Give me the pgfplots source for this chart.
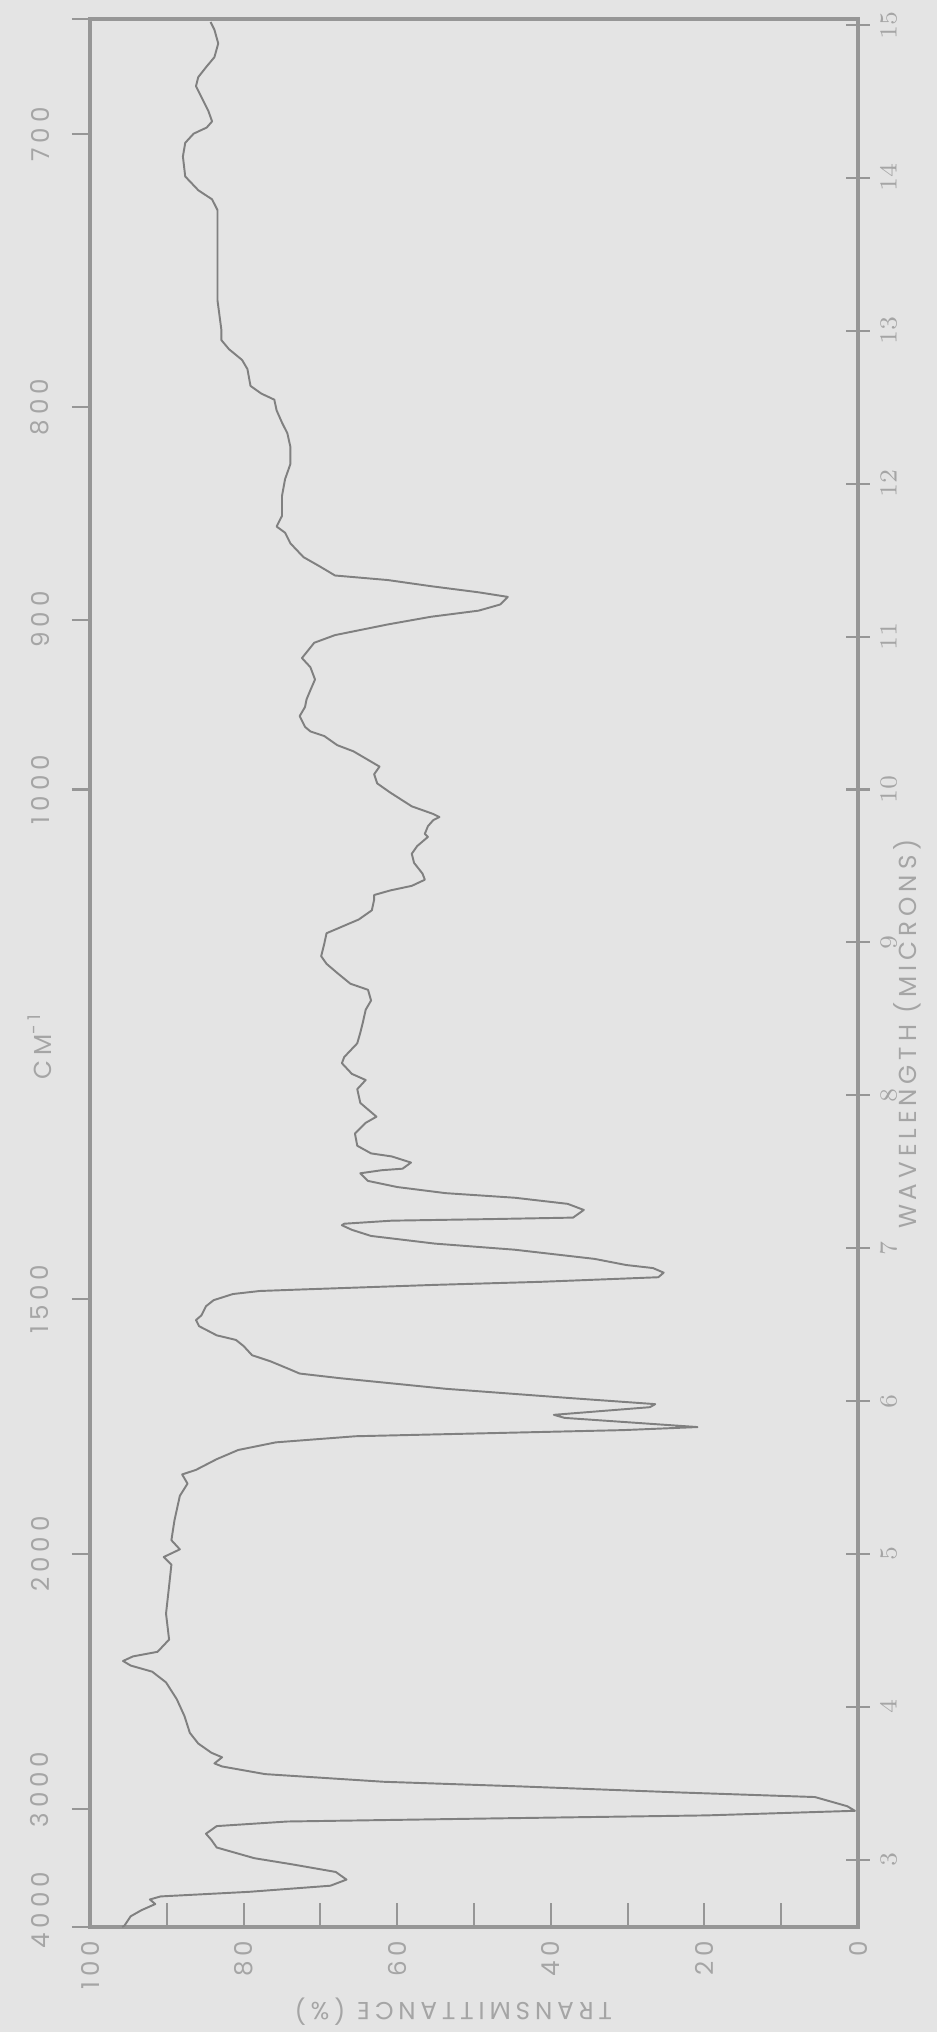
\documentclass[border=0pt]{standalone}
\usepackage{pgfplots}
\usepackage{pgfplotstable}
\pgfplotsset{compat=1.18}
\usepackage{fontspec}
\setmainfont{Poppins}
\newfontfamily\labfont{Poppins}[LetterSpace=20]
\definecolor{bgc}{RGB}{228,228,228}
\definecolor{framec}{RGB}{150,150,150}
\definecolor{curvec}{RGB}{128,128,128}
\definecolor{txtc}{RGB}{165,165,165}

\pgfplotstableread{
T lam
95.8 2.56
95.5 2.57
94.7 2.63
93.3 2.67
91.5 2.71
92.2 2.74
90.8 2.76
79.3 2.79
68.7 2.83
66.6 2.87
68.0 2.92
73.7 2.97
78.6 3.01
81.4 3.05
83.5 3.08
84.2 3.13
84.9 3.17
83.5 3.22
74.3 3.25
47.7 3.27
19.7 3.29
0.4 3.32
1.4 3.35
5.6 3.41
23.2 3.44
44.2 3.48
61.8 3.51
77.2 3.56
82.8 3.61
83.8 3.63
82.8 3.67
84.2 3.70
85.9 3.76
87.0 3.83
87.7 3.94
88.7 4.05
90.1 4.16
91.9 4.23
94.7 4.27
95.7 4.30
94.4 4.33
91.2 4.36
89.7 4.44
90.1 4.61
89.7 4.79
89.4 4.93
90.4 4.98
88.3 5.03
89.4 5.09
89.0 5.22
88.3 5.38
87.3 5.46
88.0 5.52
86.2 5.55
83.5 5.62
80.7 5.68
75.8 5.73
65.4 5.77
48.0 5.79
30.6 5.81
20.9 5.83
38.2 5.89
39.6 5.91
27.1 5.96
26.4 5.98
37.6 6.02
53.6 6.08
67.5 6.15
72.7 6.18
74.1 6.21
76.5 6.26
78.9 6.30
80.0 6.36
81.0 6.40
83.5 6.43
85.8 6.49
86.2 6.53
85.5 6.56
84.9 6.62
83.9 6.66
81.4 6.70
77.9 6.72
72.4 6.73
55.1 6.76
41.3 6.78
26.0 6.81
25.3 6.84
26.7 6.87
30.2 6.89
34.3 6.93
44.7 6.99
55.1 7.03
63.4 7.08
65.9 7.12
67.2 7.15
66.9 7.16
60.7 7.18
48.2 7.19
37.1 7.20
35.7 7.25
37.8 7.29
44.7 7.33
53.7 7.36
60.0 7.40
63.8 7.44
64.8 7.49
62.0 7.51
59.3 7.52
58.2 7.56
60.7 7.60
63.4 7.62
65.2 7.67
65.5 7.75
64.1 7.82
62.7 7.86
64.8 7.95
65.2 8.04
64.1 8.10
65.9 8.14
67.2 8.21
66.9 8.25
65.2 8.34
64.8 8.41
64.5 8.47
64.1 8.56
63.4 8.62
63.8 8.69
66.1 8.73
67.8 8.80
69.2 8.86
69.9 8.91
69.5 8.99
69.2 9.06
67.8 9.09
65.0 9.15
63.3 9.21
63.0 9.28
63.0 9.31
60.9 9.34
58.1 9.37
56.4 9.41
56.7 9.45
57.8 9.52
58.1 9.58
57.4 9.63
56.0 9.69
56.4 9.71
56.0 9.76
55.3 9.80
54.5 9.82
55.3 9.84
58.1 9.89
60.9 9.98
62.6 10.04
63.0 10.10
62.3 10.15
64.0 10.20
65.7 10.25
67.8 10.29
69.5 10.35
71.3 10.38
72.0 10.41
72.7 10.48
72.0 10.54
71.8 10.59
71.3 10.65
70.7 10.72
71.3 10.80
72.4 10.86
70.8 10.96
68.1 11.01
61.2 11.08
55.6 11.13
49.4 11.17
46.6 11.21
45.6 11.26
49.4 11.29
55.6 11.33
61.2 11.37
68.1 11.40
70.1 11.46
72.2 11.52
73.9 11.61
74.6 11.68
75.7 11.72
75.0 11.79
75.0 11.92
74.6 12.03
73.9 12.13
73.9 12.24
74.3 12.33
75.0 12.40
75.7 12.48
76.0 12.55
77.7 12.59
79.1 12.64
79.5 12.75
80.2 12.81
81.9 12.88
82.9 12.94
82.9 13.01
83.4 13.20
83.4 13.42
83.4 13.64
83.4 13.79
84.1 13.86
85.9 13.92
87.6 14.01
87.9 14.14
87.6 14.23
86.5 14.29
84.8 14.33
84.1 14.37
84.6 14.44
85.5 14.53
86.2 14.60
85.9 14.66
84.8 14.73
83.8 14.79
83.3 14.88
83.8 14.97
84.3 15.02
}\spec

\pgfplotsset{
  irbase/.style={
    at={(0.90cm,1.05cm)}, anchor=south west,
    scale only axis, width=7.68cm, height=19.08cm,
    x dir=reverse, xmin=0, xmax=100, ymin=2.56, ymax=15.04,
    clip=false,
    tick style={draw=framec, line width=0.6pt},
    ticklabel style={text=txtc, font=\labfont\fontsize{7}{8}\selectfont, inner sep=0pt},
  }
}

\begin{document}
\begin{tikzpicture}
\path[use as bounding box, fill=bgc] (0,0) rectangle (9.37cm,20.32cm);
% main axis: frame, transmittance ticks, spectrum
\begin{axis}[irbase,
  axis line style={draw=framec, line width=0.9pt},
  xtick={0,10,...,100},
  xticklabels={0,,20,,40,,60,,80,,100},
  xtick pos=bottom, tick align=inside, major tick length=2.4mm,
  xticklabel style={rotate=90, anchor=east},
  xticklabel shift=1.3mm,
  ytick=\empty,
]
\addplot[curvec, line width=0.55pt, line join=round] table[x=T, y=lam] {\spec};
\node[yshift=-8.5mm, rotate=180, text=txtc, font=\labfont\fontsize{7}{8}\selectfont]
  at (axis cs:52.7,2.56) {TRANSMITTANCE (\%)};
\node[xshift=4.9mm, rotate=90, text=txtc, font=\labfont\fontsize{7}{8}\selectfont]
  at (axis cs:0,8.4) {WAVELENGTH (MICRONS)};
\node[xshift=-5.0mm, rotate=90, text=txtc, font=\labfont\fontsize{7}{8}\selectfont]
  at (axis cs:100,8.32) {CM\textsuperscript{-1}};
\end{axis}
% right axis: wavelength ticks
\begin{axis}[irbase,
  axis line style={draw=none},
  xtick=\empty,
  ytick={3,4,...,15},
  ytick pos=right, tick align=center, major tick length=2.4mm,
  yticklabel style={rotate=90, anchor=north},
  yticklabel shift=1.0mm,
]
\end{axis}
% left axis: wavenumber ticks
\begin{axis}[irbase,
  axis line style={draw=none},
  xtick=\empty,
  ytick={2.56,3.3333,5,6.6667,10,11.1111,12.5,14.2857,15.04},
  yticklabels={},
  ytick pos=left, tick align=outside, major tick length=1.8mm,
]
\foreach \lam/\lab in {2.67/4000,3.46/3000,5/2000,6.6667/1500,10/1000,11.1111/900,12.5/800,14.2857/700}{
  \edef\tmp{\noexpand\node[xshift=-5.0mm, rotate=90, text=txtc, font=\noexpand\labfont\noexpand\fontsize{7}{8}\noexpand\selectfont]
    at (axis cs:100,\lam) {\lab};}
  \tmp
}
\end{axis}
\end{tikzpicture}
\end{document}
